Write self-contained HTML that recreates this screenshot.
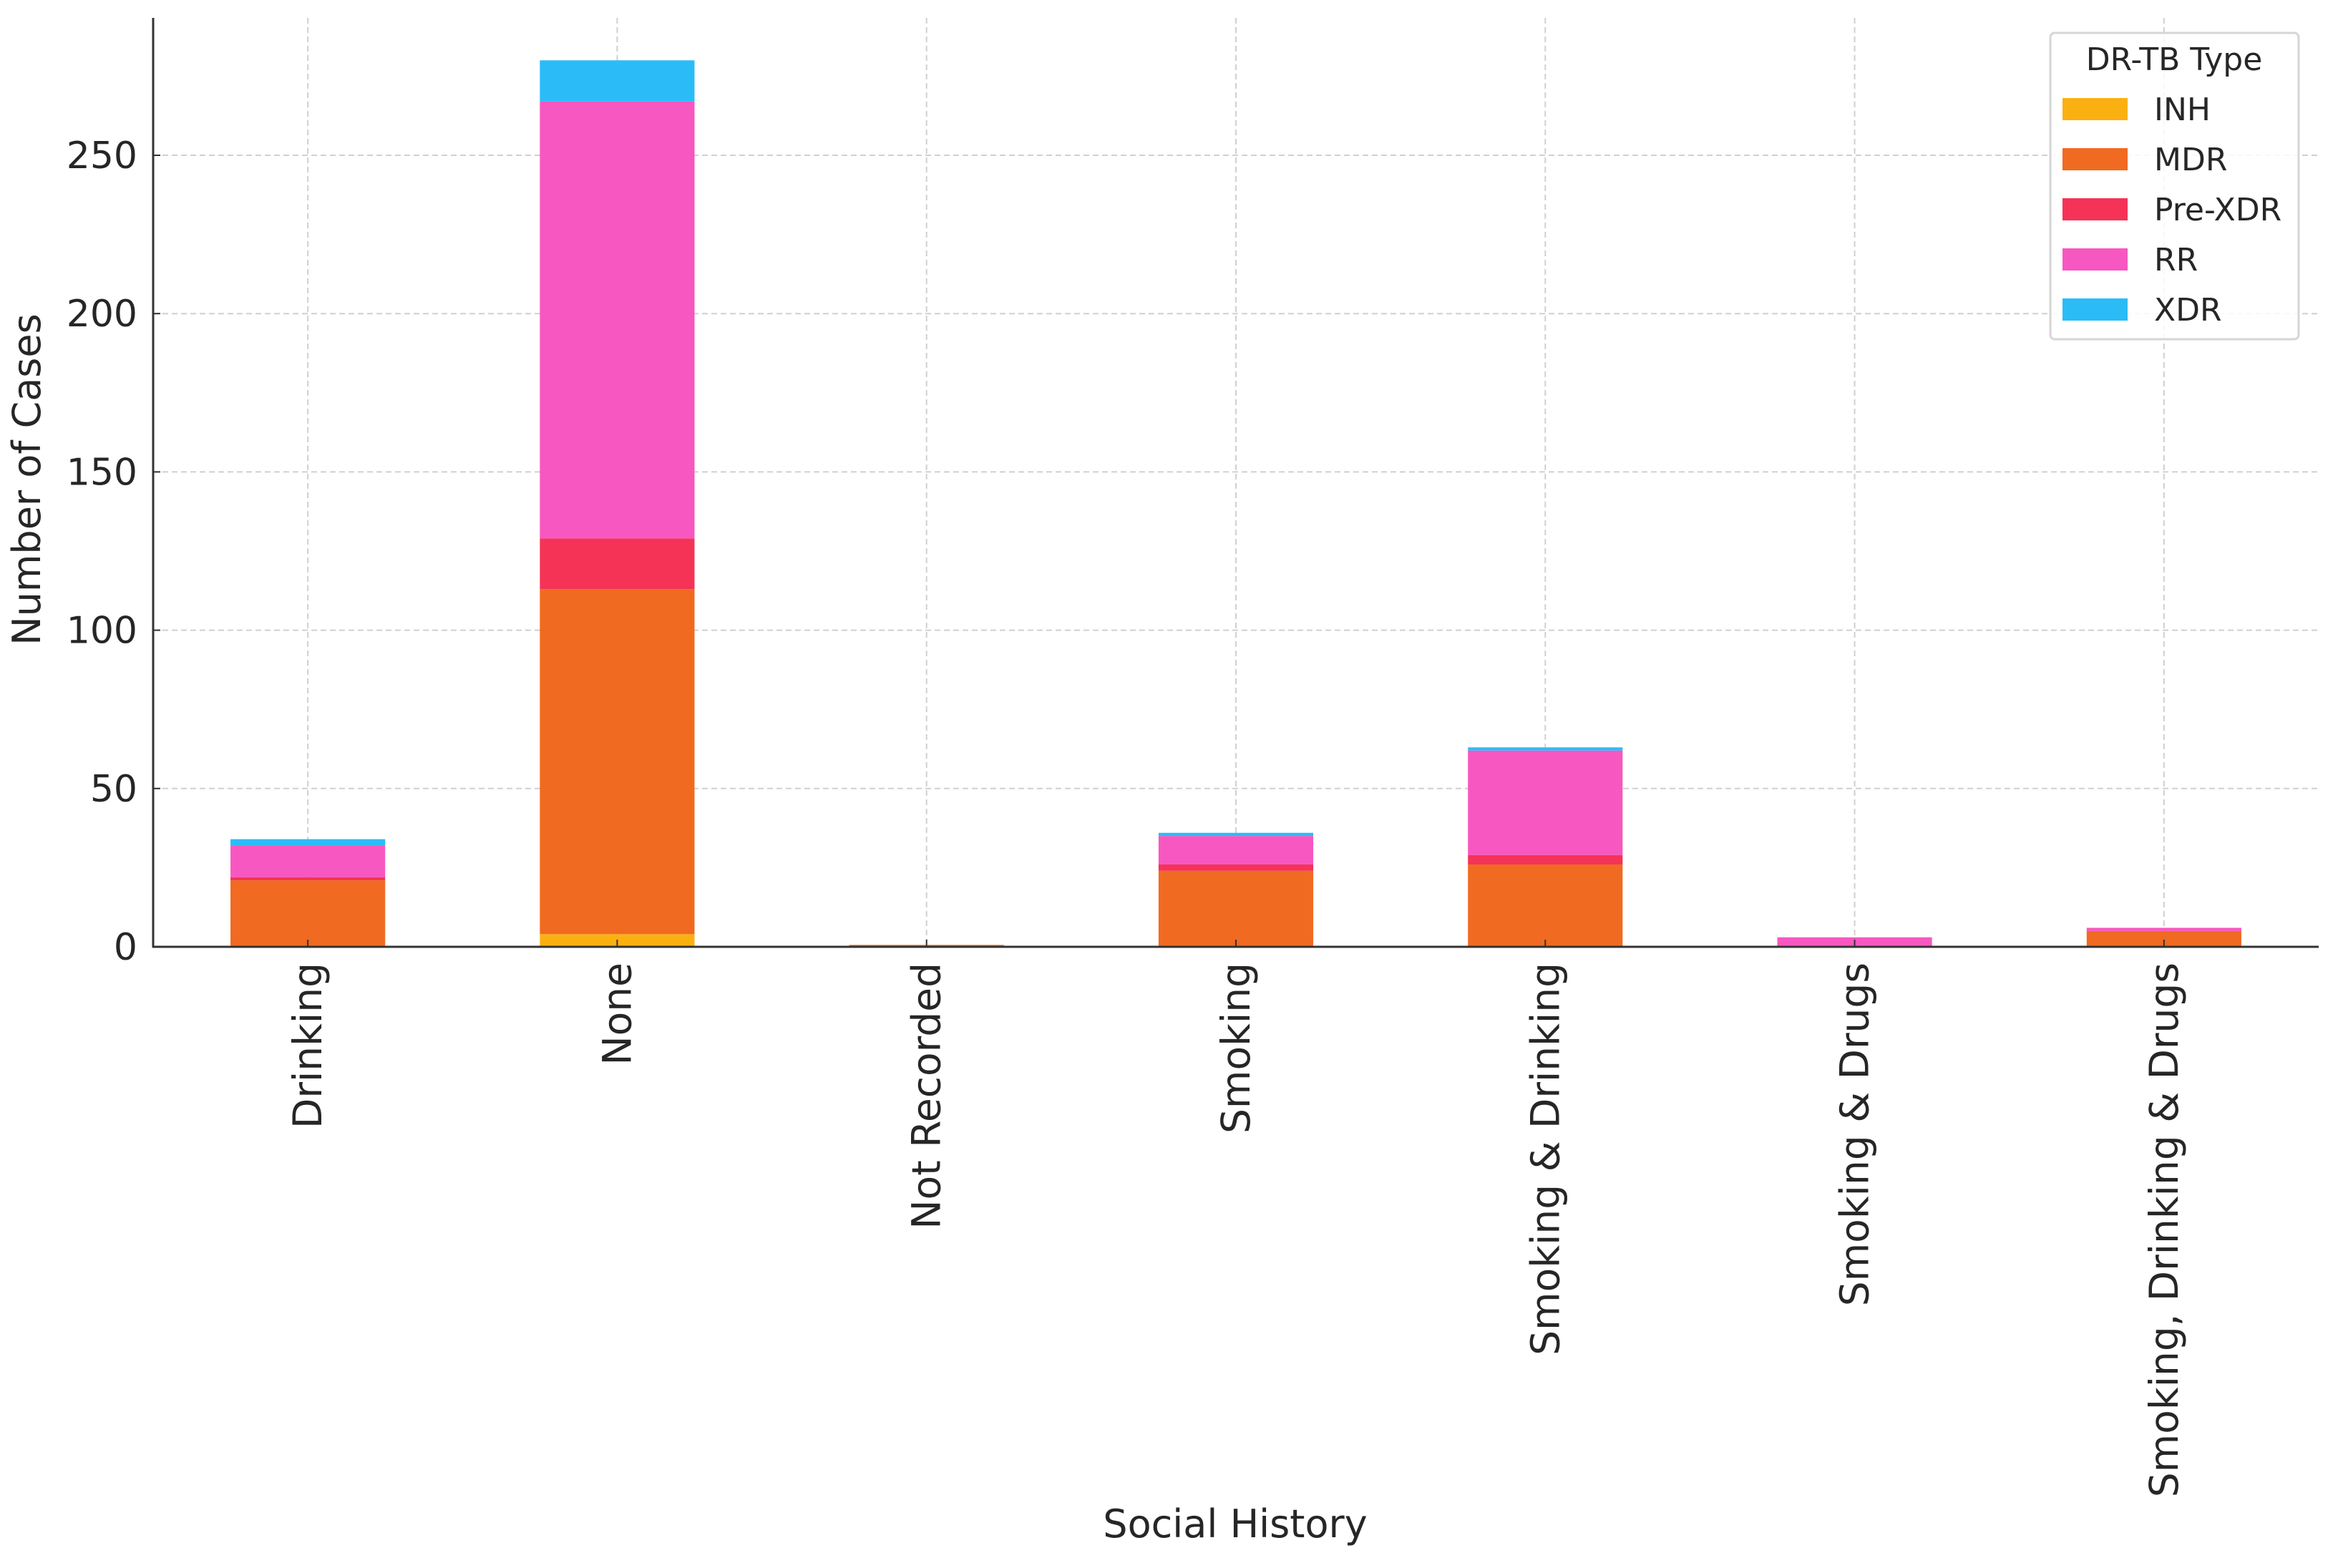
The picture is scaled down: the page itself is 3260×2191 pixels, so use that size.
<!DOCTYPE html>
<html><head><meta charset="utf-8"><style>
html,body{margin:0;padding:0;background:#fff;}
svg{display:block;font-family:"DejaVu Sans","Liberation Sans",sans-serif;}
</style></head><body>
<svg id="chart" width="3260" height="2191" viewBox="0 0 3260 2191" xmlns="http://www.w3.org/2000/svg">
<g id="grid"></g>
<g id="bars"></g>
<g id="axes"></g>
<g id="legend"></g>
</svg>
<script>
const categories = ["Drinking","None","Not Recorded","Smoking","Smoking & Drinking","Smoking & Drugs","Smoking, Drinking & Drugs"];
const seriesNames = ["INH","MDR","Pre-XDR","RR","XDR"];
const seriesColors = ["#fbb012","#f06a21","#f43357","#f757c0","#2bbcf7"];
const inhValues = [0,4,0,0,0,0,0];
const mdrValues = [21,109,0.6,24,26,0,5];
const preXdrValues = [1,16,0,2,3,0,0];
const rrValues = [10,138,0,9,33,3,1];
const xdrValues = [2,13,0,1,1,0,0];
const yTicks = [0,50,100,150,200,250];

const seriesValues = [inhValues, mdrValues, preXdrValues, rrValues, xdrValues];
const NS = "http://www.w3.org/2000/svg";
const X0 = 214, X1 = 3240, Y0 = 1323, YTOP = 25;
const yMax = 293.4;
const xScale = i => X0 + (i + 0.5) * (X1 - X0) / categories.length;
const yScale = v => Y0 - v * (Y0 - YTOP) / yMax;
const bw = 0.5 * (X1 - X0) / categories.length;
function mk(tag, attrs, parent){const e=document.createElementNS(NS,tag);for(const k in attrs)e.setAttribute(k,attrs[k]);parent.appendChild(e);return e;}
const grid=document.getElementById('grid'), bars=document.getElementById('bars'), axes=document.getElementById('axes'), legend=document.getElementById('legend');

yTicks.forEach(t=>{
  const l=mk('line',{x1:X0,x2:X1,y1:yScale(t),y2:yScale(t),stroke:'#d0d0d0','stroke-width':2,'stroke-dasharray':'8,5'},grid);
  
  
});
categories.forEach((c,i)=>{
  const l=mk('line',{x1:xScale(i),x2:xScale(i),y1:YTOP,y2:Y0,stroke:'#d0d0d0','stroke-width':2,'stroke-dasharray':'8,5'},grid);
  
  
});
categories.forEach((c,i)=>{
  let base=0;
  seriesValues.forEach((vals,s)=>{
    const v=vals[i];
    if(v>0){
      const r=mk('rect',{x:xScale(i)-bw/2,y:yScale(base+v),width:bw,height:yScale(base)-yScale(base+v),fill:seriesColors[s]},bars);
      
      
    }
    base+=v;
  });
});
const ya=mk('line',{x1:X0,x2:X0,y1:YTOP,y2:Y0+1,stroke:'#333','stroke-width':3},axes);


const xa=mk('line',{x1:X0-1,x2:X1,y1:Y0,y2:Y0,stroke:'#333','stroke-width':3},axes);


yTicks.forEach(t=>{
  const tk=mk('line',{x1:X0,x2:X0+10,y1:yScale(t),y2:yScale(t),stroke:'#333','stroke-width':2},axes);
  
  
  const tx=mk('text',{x:X0-22,y:yScale(t)+18,'text-anchor':'end','font-size':52,fill:'#262626'},axes);
  tx.textContent=t;
  
  
});
categories.forEach((c,i)=>{
  const tk=mk('line',{x1:xScale(i),x2:xScale(i),y1:Y0,y2:Y0-10,stroke:'#333','stroke-width':2},axes);
  
  
  const x=xScale(i)+19, y=Y0+22;
  const tx=mk('text',{x:x,y:y,'text-anchor':'end','font-size':55,fill:'#262626',transform:`rotate(-90 ${x} ${y})`},axes);
  tx.textContent=c;
  
  
});
const xl=mk('text',{x:1726,y:2148,'text-anchor':'middle','font-size':54,fill:'#262626'},axes);
xl.textContent='Social History';


const yl=mk('text',{x:56,y:670,'text-anchor':'middle','font-size':54,fill:'#262626',transform:'rotate(-90 56 670)'},axes);
yl.textContent='Number of Cases';



const lb=mk('rect',{x:2865,y:46,width:347,height:428,rx:6,fill:'#fff','fill-opacity':0.85,stroke:'#d6d6d6','stroke-width':3},legend);


const lt=mk('text',{x:3038,y:98,'text-anchor':'middle','font-size':44,fill:'#262626'},legend);
lt.textContent='DR-TB Type';


seriesNames.forEach((n,s)=>{
  const cy=152+s*70;
  const g=mk('g',{},legend);
  
  
  mk('rect',{x:2882,y:cy-15,width:91,height:31,fill:seriesColors[s]},g);
  const t=mk('text',{x:3010,y:cy+16,'font-size':44,fill:'#262626'},g);
  t.textContent=n;
});
</script>
</body></html>
